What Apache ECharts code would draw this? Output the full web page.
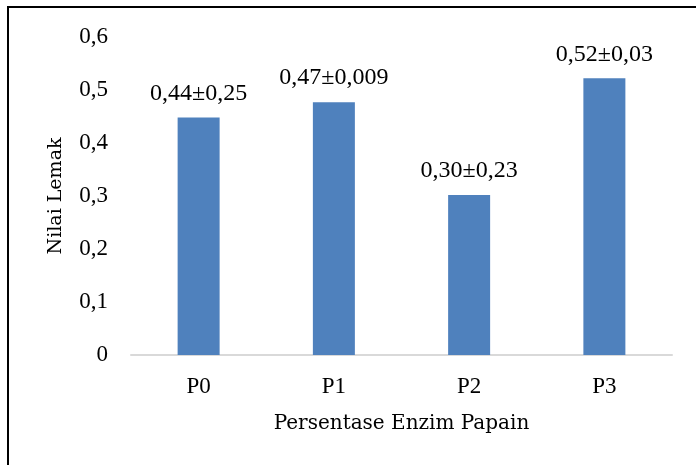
<!DOCTYPE html>
<html>
<head>
<meta charset="utf-8">
<script src="https://cdn.jsdelivr.net/npm/echarts@6/dist/echarts.min.js"></script>
<style>
html,body{margin:0;padding:0;background:#fff;}
#chart{width:696px;height:465px;}
</style>
</head>
<body>
<div id="chart"></div>
<script>
const categories = ['P0', 'P1', 'P2', 'P3'];
const values = [0.448, 0.477, 0.302, 0.522];
const valueLabels = ['0,44±0,25', '0,47±0,009', '0,30±0,23', '0,52±0,03'];
const yTicks = [0, 0.1, 0.2, 0.3, 0.4, 0.5, 0.6];

const numFont = 'Liberation Serif';
const nameFont = 'DejaVu Serif';

const chart = echarts.init(document.getElementById('chart'));
chart.setOption({
  animation: false,
  backgroundColor: '#fff',
  graphic: [{
    type: 'rect',
    shape: { x: 8, y: 7, width: 720, height: 500 },
    style: { fill: 'none', stroke: '#000', lineWidth: 2 }
  }],
  grid: { left: 131, right: 24, top: 37, bottom: 110 },
  xAxis: {
    type: 'category',
    data: categories,
    name: 'Persentase Enzim Papain',
    nameLocation: 'middle',
    nameGap: 59,
    nameTextStyle: { fontFamily: nameFont, fontSize: 20, color: '#000' },
    axisLine: { lineStyle: { color: '#d9d9d9', width: 2 } },
    axisTick: { show: false },
    axisLabel: { fontFamily: numFont, fontSize: 23, color: '#000', margin: 20 }
  },
  yAxis: {
    type: 'value',
    min: yTicks[0],
    max: yTicks[yTicks.length - 1],
    interval: 0.1,
    name: 'Nilai Lemak',
    nameLocation: 'middle',
    nameGap: 65,
    nameTextStyle: { fontFamily: nameFont, fontSize: 19, color: '#000' },
    axisLine: { show: false },
    axisTick: { show: false },
    splitLine: { show: false },
    axisLabel: {
      fontFamily: numFont, fontSize: 23, color: '#000', margin: 23,
      formatter: v => String(Math.round(v * 10) / 10).replace('.', ',')
    }
  },
  series: [{
    type: 'bar',
    data: values,
    barWidth: 42,
    itemStyle: { color: '#4f81bd' },
    label: {
      show: true,
      position: 'top',
      distance: 12,
      fontFamily: numFont,
      fontSize: 24,
      color: '#000',
      formatter: p => valueLabels[p.dataIndex]
    }
  }]
});
</script>
</body>
</html>
